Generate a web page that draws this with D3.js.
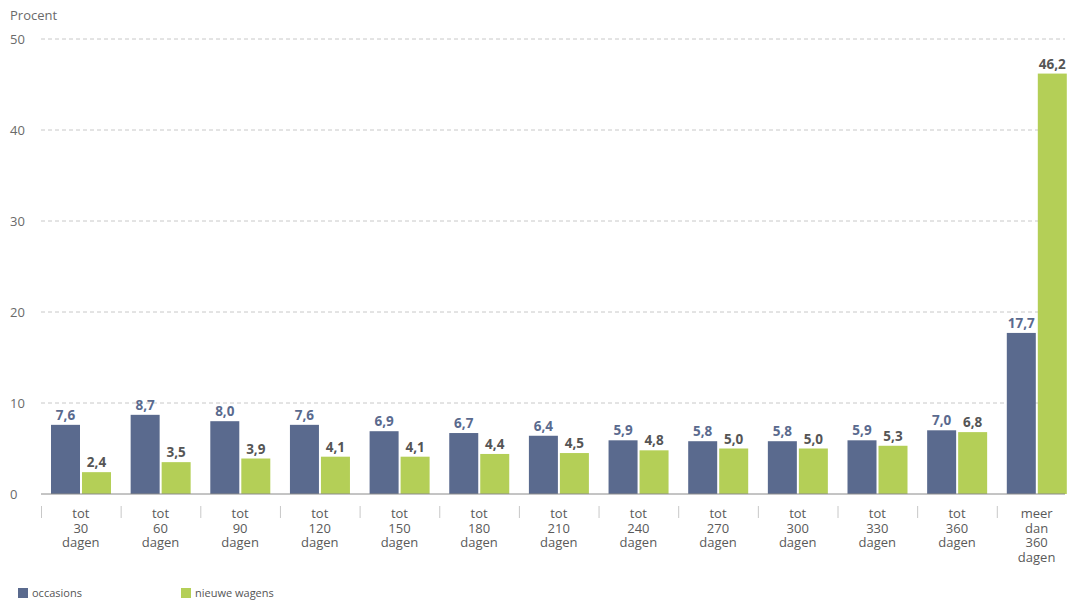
<!DOCTYPE html>
<html>
<head>
<meta charset="utf-8">
<script src="https://cdn.jsdelivr.net/npm/d3@7"></script>
<style>
  html, body { margin: 0; padding: 0; background: #fff; }
  svg { display: block; font-family: "Open Sans", "Noto Sans", sans-serif; }
</style>
</head>
<body>
<svg id="chart" width="1067" height="602"></svg>
<script>
// Verdeling van de verkooptijd, in procent
const categories = [
  ["tot", "30", "dagen"], ["tot", "60", "dagen"], ["tot", "90", "dagen"],
  ["tot", "120", "dagen"], ["tot", "150", "dagen"], ["tot", "180", "dagen"],
  ["tot", "210", "dagen"], ["tot", "240", "dagen"], ["tot", "270", "dagen"],
  ["tot", "300", "dagen"], ["tot", "330", "dagen"], ["tot", "360", "dagen"],
  ["meer", "dan", "360", "dagen"]
];
const occasions = [7.6, 8.7, 8.0, 7.6, 6.9, 6.7, 6.4, 5.9, 5.8, 5.8, 5.9, 7.0, 17.7];
const nieuweWagens = [2.4, 3.5, 3.9, 4.1, 4.1, 4.4, 4.5, 4.8, 5.0, 5.0, 5.3, 6.8, 46.2];
const yTicks = [0, 10, 20, 30, 40, 50];
const seriesNames = ["occasions", "nieuwe wagens"];

const colOcc = "#5a6a8e";
const colNew = "#b4cf57";

const svg = d3.select("#chart");
const plotLeft = 41, plotRight = 1065, y0 = 494, yTop = 39;

const x = d3.scaleBand()
  .domain(d3.range(categories.length))
  .range([plotLeft, plotLeft + 79.65 * categories.length])
  .paddingInner(0).paddingOuter(0);

const y = d3.scaleLinear().domain([0, 50]).range([y0, yTop]);

// horizontal gridlines
svg.append("g").selectAll("line")
  .data(yTicks.filter(t => t > 0))
  .join("line")
  .attr("x1", plotLeft).attr("x2", plotRight)
  .attr("y1", d => y(d)).attr("y2", d => y(d))
  .attr("stroke", "#c8c8c8").attr("stroke-width", 1)
  .attr("stroke-dasharray", "4,3");

// y-axis tick labels
svg.append("g").selectAll("text")
  .data(yTicks)
  .join("text")
  .attr("x", 10).attr("y", d => y(d) + 4.5)
  .attr("font-size", 13).attr("fill", "#6a6a6a")
  .text(d => d);

svg.append("text").attr("x", 10).attr("y", 20)
  .attr("font-size", 13).attr("fill", "#6a6a6a").text("Procent");

const barW = 29;
const g = svg.append("g");

// occasions bars
g.selectAll("rect.occ").data(occasions).join("rect")
  .attr("class", "occ")
  .attr("x", (d, i) => x(i) + 10)
  .attr("y", d => y(d)).attr("width", barW)
  .attr("height", d => y0 - y(d))
  .attr("fill", colOcc);

// nieuwe wagens bars
g.selectAll("rect.new").data(nieuweWagens).join("rect")
  .attr("class", "new")
  .attr("x", (d, i) => x(i) + 41)
  .attr("y", d => y(d)).attr("width", barW)
  .attr("height", d => y0 - y(d))
  .attr("fill", colNew);

const fmt = v => d3.format(".1f")(v).replace(".", ",");

// value labels
g.selectAll("text.occ").data(occasions).join("text")
  .attr("x", (d, i) => x(i) + 10 + barW / 2)
  .attr("y", d => y(d) - 5)
  .attr("text-anchor", "middle").attr("font-size", 13.5).attr("font-weight", 700)
  .attr("fill", colOcc).text(fmt);

g.selectAll("text.new").data(nieuweWagens).join("text")
  .attr("x", (d, i) => x(i) + 41 + barW / 2)
  .attr("y", d => y(d) - 5)
  .attr("text-anchor", "middle").attr("font-size", 13.5).attr("font-weight", 700)
  .attr("fill", "#555").text(fmt);

// baseline
svg.append("line").attr("x1", plotLeft).attr("x2", plotRight)
  .attr("y1", y0).attr("y2", y0).attr("stroke", "#8a8a8a").attr("stroke-width", 1);

// group separators below the axis
svg.append("g").selectAll("line").data(d3.range(categories.length)).join("line")
  .attr("x1", i => x(i) + 0.5).attr("x2", i => x(i) + 0.5)
  .attr("y1", 506).attr("y2", 518)
  .attr("stroke", "#c8c8c8");

// category labels, one text per line
const catGroups = svg.append("g").selectAll("g").data(categories).join("g");
catGroups.selectAll("text").data(d => d).join("text")
  .attr("x", function () {
    const i = categories.indexOf(d3.select(this.parentNode).datum());
    return x(i) + x.bandwidth() / 2;
  })
  .attr("y", (d, j) => 518 + j * 14.5)
  .attr("text-anchor", "middle").attr("font-size", 13).attr("fill", "#5a5a5a")
  .text(d => d);

// legend
const legend = svg.append("g");
[[18, colOcc, seriesNames[0]], [181, colNew, seriesNames[1]]].forEach(([lx, c, t]) => {
  legend.append("rect").attr("x", lx).attr("y", 588).attr("width", 10).attr("height", 10).attr("fill", c);
  legend.append("text").attr("x", lx + 14).attr("y", 597).attr("font-size", 11)
    .attr("fill", "#555").text(t);
});
</script>
</body>
</html>
